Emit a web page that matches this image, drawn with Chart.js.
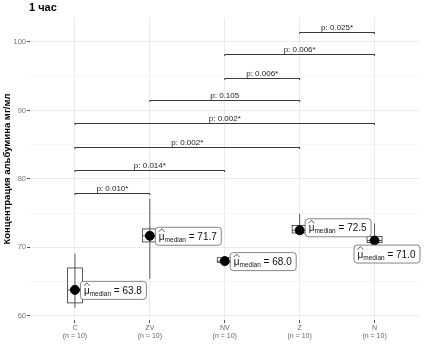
<!DOCTYPE html>
<html>
<head>
<meta charset="utf-8">
<script src="https://cdn.jsdelivr.net/npm/chart.js@4.4.1/dist/chart.umd.min.js"></script>
<style>
  html, body { margin: 0; padding: 0; background: #fff; }
</style>
</head>
<body>
<canvas id="chart" width="425" height="353"></canvas>
<script>
// Groups and sample sizes
const groups = ['C', 'ZV', 'NV', 'Z', 'N'];
const nLabels = ['(n = 10)', '(n = 10)', '(n = 10)', '(n = 10)', '(n = 10)'];

// Box plot summaries
const medians = [63.8, 71.7, 68.0, 72.5, 71.0];
const q1 = [61.9, 70.8, 67.8, 72.1, 70.7];
const q3 = [67.0, 72.7, 68.5, 73.2, 71.6];
const whiskLo = [61.2, 65.4, 67.7, 72.0, 70.6];
const whiskHi = [69.1, 77.1, 68.7, 74.9, 73.5];

// Pairwise comparisons
const pairFrom = [0, 0, 0, 0, 1, 2, 2, 3];
const pairTo = [1, 2, 3, 4, 3, 3, 4, 4];
const pTexts = ['p: 0.010*', 'p: 0.014*', 'p: 0.002*', 'p: 0.002*', 'p: 0.105', 'p: 0.006*', 'p: 0.006*', 'p: 0.025*'];
const pLevels = [78.0, 81.3, 84.7, 88.1, 91.5, 94.7, 98.2, 101.5];

const yTicks = [60, 65, 70, 75, 80, 85, 90, 95, 100];

// label offsets relative to the median point (pixels)
const labelOffset = [[5, 0], [5, 0], [5, 0], [5, -3], [-21, 13]];

const FONT = '"Liberation Sans", Arial, sans-serif';

function drawLabel(ctx, x, yc, value) {
    const big = 10, small = 6.5;
    ctx.font = big + 'px ' + FONT;
    const wMu = ctx.measureText('\u03bc').width;
    const tail = ' = ' + value.toFixed(1);
    const wTail = ctx.measureText(tail).width;
    ctx.font = small + 'px ' + FONT;
    const wSub = ctx.measureText('median').width;
    const w = 4 + wMu + wSub + wTail + 4;
    const h = 18;
    const y = yc - h / 2;

    ctx.save();
    ctx.fillStyle = '#fff';
    ctx.strokeStyle = '#666';
    ctx.lineWidth = 0.8;
    ctx.beginPath();
    ctx.roundRect(x + 0.5, y + 0.5, w, h, 3);
    ctx.fill();
    ctx.stroke();

    ctx.fillStyle = '#111';
    ctx.textBaseline = 'alphabetic';
    let cx = x + 4;
    const base = yc + 4;
    ctx.font = big + 'px ' + FONT;
    ctx.fillText('\u03bc', cx, base);
    // hat over mu
    ctx.strokeStyle = '#111';
    ctx.lineWidth = 0.7;
    ctx.beginPath();
    ctx.moveTo(cx, base - 8);
    ctx.lineTo(cx + wMu / 2, base - 11);
    ctx.lineTo(cx + wMu, base - 8);
    ctx.stroke();
    cx += wMu;
    ctx.font = small + 'px ' + FONT;
    ctx.fillText('median', cx, base + 2);
    cx += wSub;
    ctx.font = big + 'px ' + FONT;
    ctx.fillText(tail, cx, base);
    ctx.restore();
}

const boxPlugin = {
    id: 'boxes',
    beforeDatasetsDraw(chart) {
        const { ctx, scales: { x, y } } = chart;
        ctx.save();
        ctx.strokeStyle = '#333';
        ctx.lineWidth = 0.8;
        groups.forEach((g, i) => {
            const cx = x.getPixelForValue(i + 1);
            const half = (x.getPixelForValue(1.1) - x.getPixelForValue(1));
            // whisker
            ctx.beginPath();
            ctx.moveTo(cx, y.getPixelForValue(whiskLo[i]));
            ctx.lineTo(cx, y.getPixelForValue(whiskHi[i]));
            ctx.stroke();
            // box
            const top = y.getPixelForValue(q3[i]);
            const bot = y.getPixelForValue(q1[i]);
            ctx.strokeRect(cx - half, top, half * 2, bot - top);
            // median line
            const my = y.getPixelForValue(medians[i]);
            ctx.beginPath();
            ctx.moveTo(cx - half, my);
            ctx.lineTo(cx + half, my);
            ctx.stroke();
        });
        ctx.restore();
    },
    afterDatasetsDraw(chart) {
        const { ctx, scales: { x, y } } = chart;
        // comparison brackets
        ctx.save();
        ctx.strokeStyle = '#222';
        ctx.lineWidth = 0.9;
        ctx.fillStyle = '#222';
        ctx.font = '8px ' + FONT;
        ctx.textAlign = 'center';
        ctx.textBaseline = 'alphabetic';
        pTexts.forEach((t, k) => {
            const x1 = x.getPixelForValue(pairFrom[k] + 1);
            const x2 = x.getPixelForValue(pairTo[k] + 1);
            const yy = Math.round(y.getPixelForValue(pLevels[k])) + 0.5;
            ctx.beginPath();
            ctx.moveTo(x1, yy + 1.5);
            ctx.lineTo(x1, yy);
            ctx.lineTo(x2, yy);
            ctx.lineTo(x2, yy + 1.5);
            ctx.stroke();
            ctx.fillText(t, (x1 + x2) / 2, yy - 2.5);
        });
        ctx.restore();

        // median labels
        groups.forEach((g, i) => {
            const px = x.getPixelForValue(i + 1);
            const py = y.getPixelForValue(medians[i]);
            drawLabel(ctx, px + labelOffset[i][0], py + labelOffset[i][1], medians[i]);
        });
    },
    afterDraw(chart) {
        const { ctx, chartArea } = chart;
        ctx.save();
        ctx.fillStyle = '#000';
        ctx.font = 'bold 11px ' + FONT;
        ctx.textBaseline = 'middle';
        ctx.fillText('1 час', 29, 8);
        ctx.translate(7, (chartArea.top + chartArea.bottom) / 2);
        ctx.rotate(-Math.PI / 2);
        ctx.textAlign = 'center';
        ctx.font = 'bold 9.5px ' + FONT;
        ctx.fillText('Концентрация альбумина мг/мл', 0, 0);
        ctx.restore();
    }
};

new Chart(document.getElementById('chart'), {
    type: 'scatter',
    data: {
        datasets: [{
            data: medians.map((m, i) => ({ x: i + 1, y: m })),
            backgroundColor: '#000',
            borderColor: '#000',
            pointRadius: 4.5,
            pointHoverRadius: 4.5
        }]
    },
    options: {
        responsive: false,
        animation: false,
        layout: { padding: { top: 18, right: 4, left: 0, bottom: 0 } },
        plugins: { legend: { display: false }, tooltip: { enabled: false } },
        scales: {
            x: {
                type: 'linear',
                min: 0.4,
                max: 5.6,
                afterBuildTicks: s => { s.ticks = groups.map((g, i) => ({ value: i + 1 })); },
                afterFit: s => { s.height = 33; },
                border: { display: false },
                grid: { color: '#ebebeb', lineWidth: 1, tickColor: '#555', tickLength: 3 },
                ticks: {
                    padding: 1,
                    color: '#666',
                    font: { size: 7, family: FONT, lineHeight: 1.15 },
                    callback: (v) => [groups[v - 1], nLabels[v - 1]]
                }
            },
            y: {
                min: 59.4,
                max: 103.5,
                afterBuildTicks: s => { s.ticks = yTicks.map(v => ({ value: v })); },
                afterFit: s => { s.width = 30; },
                border: { display: false },
                grid: {
                    color: c => (c.tick && c.tick.value % 10 === 0) ? '#ebebeb' : '#f5f5f5',
                    tickColor: c => (c.tick && c.tick.value % 10 === 0) ? '#555' : 'rgba(0,0,0,0)',
                    tickLength: 3
                },
                ticks: {
                    padding: 1,
                    color: '#777',
                    font: { size: 7.5, family: FONT },
                    callback: v => (v % 10 === 0 ? v : '')
                }
            }
        }
    },
    plugins: [boxPlugin]
});
</script>
</body>
</html>
